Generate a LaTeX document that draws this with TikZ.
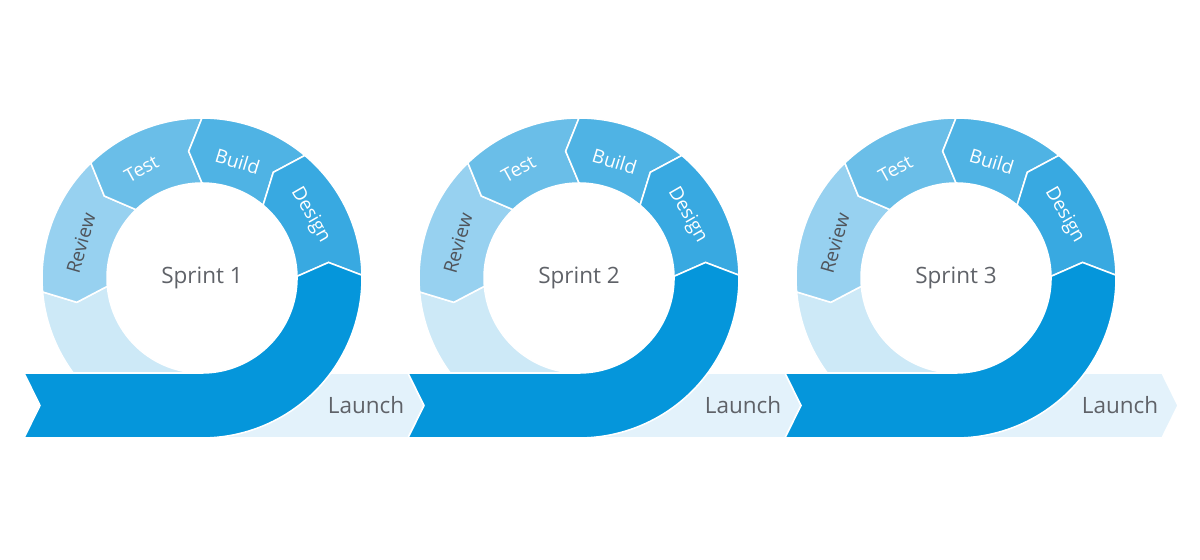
\documentclass[tikz,border=0pt]{standalone}
\usepackage{fontspec}
\setmainfont{Open Sans}
\definecolor{darkblue}{RGB}{5,150,219}
\definecolor{designc}{RGB}{56,169,225}
\definecolor{buildc}{RGB}{79,179,228}
\definecolor{testc}{RGB}{106,190,232}
\definecolor{reviewc}{RGB}{151,209,240}
\definecolor{lightring}{RGB}{205,233,247}
\definecolor{launchc}{RGB}{227,242,251}
\definecolor{txtgray}{RGB}{95,98,104}
\definecolor{revtxt}{RGB}{80,84,90}
\tikzset{
  segline/.style={draw=white, line width=1.1pt, line join=miter},
  seglabel/.style={font=\fontsize{13.5}{16}\selectfont, text=white, inner sep=0pt},
  sprintlabel/.style={font=\fontsize{16}{19}\selectfont, text=txtgray, inner sep=0pt},
  launchlabel/.style={font=\fontsize{16}{19}\selectfont, text=txtgray, inner sep=0pt}
}
\newcommand\ringseg[3]{% a1, a2, colour
  \fill[#3, segline] (#1:95) -- ({#1+6}:127.5) -- (#1:160)
    arc[start angle=#1, end angle=#2, radius=160]
    -- ({#2+6}:127.5) -- (#2:95)
    arc[start angle=#2, end angle=#1, radius=95] -- cycle;}
\newcommand\sprint[4]{% centre x, left offset, number, name
  \begin{scope}[shift={(#1,281)}]
    % light lower-left part
    \fill[lightring, segline] (185:95) -- (191:127.5) -- (185:160)
      arc[start angle=185, end angle=270, radius=160] -- (270:95)
      arc[start angle=270, end angle=185, radius=95] -- cycle;
    \ringseg{134}{185}{reviewc}
    \ringseg{90}{134}{testc}
    \ringseg{50}{90}{buildc}
    \ringseg{1}{50}{designc}
    % dark band with arc
    \fill[darkblue, segline] (#2,-95) -- ({#2+16},-127.5) -- (#2,-160) -- (0,-160)
      arc[start angle=270, end angle=361, radius=160]
      -- (367:127.5) -- (361:95)
      arc[start angle=361, end angle=270, radius=95] -- cycle;
    \node[sprintlabel] (#4s) at (0,0) {Sprint #3};
    \node[seglabel, rotate=-60] (#4d) at (30:125) {Design};
    \node[seglabel, rotate=-17] (#4b) at (73:122) {Build};
    \node[seglabel, rotate=29] (#4t) at (119:125) {Test};
    \node[seglabel, text=revtxt, rotate=74] (#4r) at (164:126) {Review};
    \node[launchlabel] (#4l) at (164,-127.5) {Launch};
  \end{scope}}
\newcommand\launchband[1]{%
  \begin{scope}[shift={(#1,281)}]
    \fill[launchc, segline] (0,-95) -- (206,-95) -- (222,-127.5) -- (206,-160) -- (0,-160) -- cycle;
  \end{scope}}
\begin{document}
\begin{tikzpicture}[x=0.025cm,y=0.025cm]
\useasboundingbox[fill=white] (0,0) rectangle (1200,559);
\launchband{202}
\launchband{579}
\launchband{956}
\sprint{202}{-178}{1}{one}
\sprint{579}{-171}{2}{two}
\sprint{956}{-171}{3}{three}
\end{tikzpicture}
\end{document}
